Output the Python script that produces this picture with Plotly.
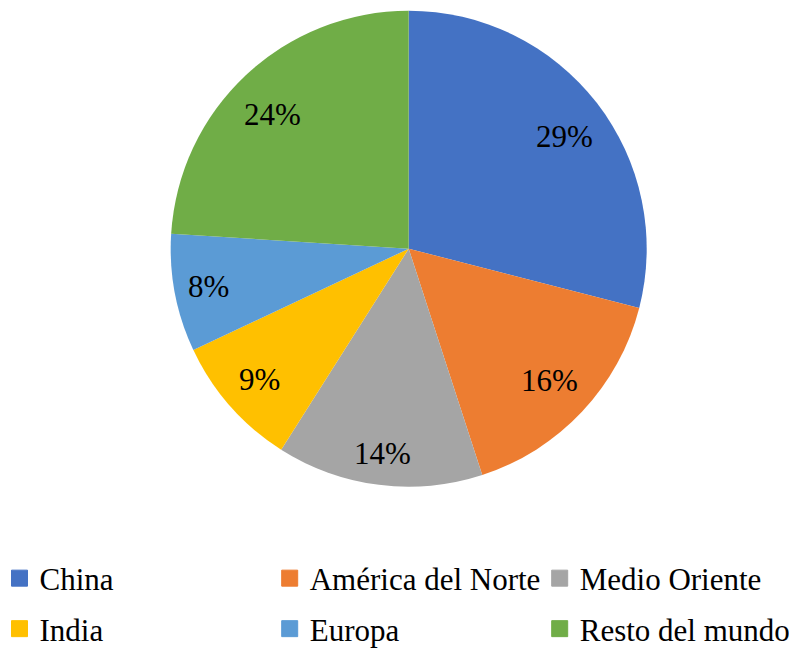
import math
import plotly.graph_objects as go

labels = ["China", "América del Norte", "Medio Oriente", "India", "Europa", "Resto del mundo"]
values = [29, 16, 14, 9, 8, 24]
colors = ["#4472C4", "#ED7D31", "#A5A5A5", "#FFC000", "#5B9BD5", "#70AD47"]

# the page body has an 8px margin, so the figure is 8px smaller than the window
OFF = 8
W, H = 797 - OFF, 649 - OFF
CX, CY, R = 408.7 - OFF, 248.7 - OFF, 238.0
FS = 31
FS_LEG = 31
FONT = "Liberation Serif"

fig = go.Figure()
fig.add_trace(go.Pie(
    labels=labels, values=values, sort=False, direction="clockwise", rotation=0,
    marker=dict(colors=colors, line=dict(width=0)),
    textinfo="none", hoverinfo="skip", showlegend=False,
    domain=dict(x=[(CX - R) / W, (CX + R) / W], y=[1 - (CY + R) / H, 1 - (CY - R) / H]),
))

# percentage labels placed inside the slice ends (computed from the values)
total = sum(values)
cum = 0.0
annotations = []
for v in values:
    mid = (cum + v / 2) / total * 2 * math.pi
    cum += v
    txt = f"{round(v / total * 100)}%"
    ndig = len(txt) - 1
    hw = FS * (0.5 * ndig + 0.833) / 2 + 6.4
    s, c = math.sin(mid), math.cos(mid)
    r = (R - 3.7) - abs(s) * hw - abs(c) * 23.5
    up = max(c, 0.0)
    x = CX + r * s + 8 * s * up
    y = CY - r * c + 9 * up
    annotations.append(dict(
        x=x / W, y=1 - y / H, xref="paper", yref="paper", text=txt, showarrow=False,
        xanchor="center", yanchor="middle",
        font=dict(family=FONT, size=FS, color="black"),
    ))

# legend: one legend box per entry, 3 columns x 2 rows
col_centers = [21.5, 291.7, 561.7]
row_centers = [578.5, 629.0]
legends = {}
for i, (lab, col) in enumerate(zip(labels, colors)):
    key = "legend" if i == 0 else f"legend{i + 1}"
    fig.add_trace(go.Scatter(
        x=[None], y=[None], mode="markers", name=lab, legend=key,
        marker=dict(symbol="square", size=16, color=col, line=dict(color=col, width=1)),
        hoverinfo="skip", showlegend=True,
    ))
    cx_ = col_centers[i % 3] - OFF - 22
    cy_ = row_centers[i // 3] - OFF
    legends[key] = dict(
        x=cx_ / W, xanchor="left", y=1 - cy_ / H, yanchor="middle",
        orientation="h", bgcolor="rgba(0,0,0,0)", borderwidth=0,
        font=dict(family=FONT, size=FS_LEG, color="black"),
    )

fig.update_layout(
    width=W, height=H, margin=dict(l=0, r=0, t=0, b=0, autoexpand=False),
    paper_bgcolor="white", plot_bgcolor="white",
    font=dict(family=FONT, size=FS, color="black"),
    xaxis=dict(visible=False), yaxis=dict(visible=False),
    annotations=annotations,
    **legends,
)
fig.write_html("out.html")
